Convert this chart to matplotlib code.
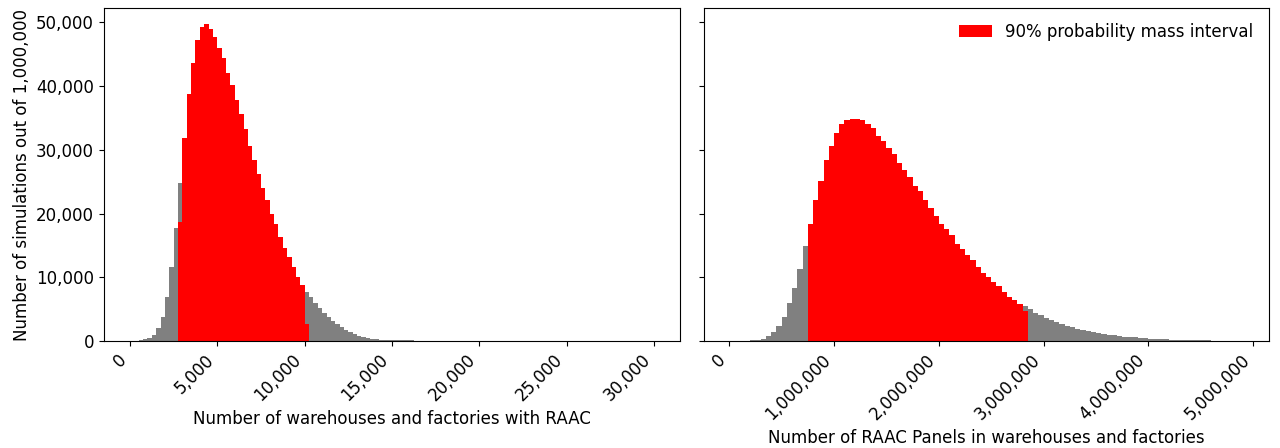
import numpy as np
import matplotlib
matplotlib.use('Agg')
import matplotlib.pyplot as plt
from matplotlib.ticker import StrMethodFormatter

plt.rcParams['font.size'] = 12

# histogram counts (1,000,000 simulations)
# warehouses and factories with RAAC: bins of 250 from 0 to 30,000
sites_edges = np.arange(0, 30001, 250)
sites_counts = [0, 20, 100, 300, 520, 940, 1990, 3800, 6950, 11650,
                17800, 24850, 31900, 38800, 43600, 47300, 49250, 49770, 48900, 47700,
                46000, 44400, 42000, 40100, 37870, 35680, 33220, 30600, 28360, 26270,
                24080, 22100, 20000, 18330, 16250, 14630, 13110, 11650, 10080, 8780,
                7730, 6850, 5900, 5120, 4440, 3810, 3190, 2660, 2140, 1720,
                1460, 1100, 780, 570, 420, 310, 260, 200, 160, 140,
                120, 110, 100, 90, 80, 70] + [0] * 54
# 90% interval: bins 11..40, edge bins only partly inside
sites_ci_bins = (11, 40)
sites_ci_edge_counts = (18700, 2700)

# RAAC panels: bins of 50,000 from 0 to 4,900,000
panels_edges = np.arange(0, 4900001, 50000)
panels_counts = [0, 0, 30, 60, 100, 200, 370, 840, 1460, 2350,
                 3810, 5900, 8250, 11230, 14890, 18300, 22100, 25070, 28360, 30660,
                 32650, 33980, 34740, 34890, 34890, 34700, 34000, 33480, 32120, 31370,
                 30240, 29350, 27970, 26900, 25750, 24290, 23560, 22100, 20950, 19590,
                 18330, 17650, 16610, 15300, 14360, 13480, 12690, 11650, 10710, 9980,
                 9300, 8560, 7730, 6950, 6420, 5800, 5480, 5000, 4450, 4100,
                 3650, 3300, 2950, 2650, 2400, 2200, 1950, 1750, 1580, 1420,
                 1270, 1130, 1010, 900, 800, 700, 620, 550, 480, 420,
                 370, 320, 280, 240, 210, 180, 160, 140, 120, 100,
                 90, 80, 70, 60, 50, 40, 60, 40]
panels_ci_bins = (15, 56)
panels_ci_edge_counts = (18300, 4750)


def interval_counts(counts, ci_bins, edge_counts):
    red = np.zeros(len(counts))
    lo, hi = ci_bins
    red[lo:hi + 1] = counts[lo:hi + 1]
    red[lo], red[hi] = edge_counts
    return red


fig, (ax1, ax2) = plt.subplots(1, 2, figsize=(12.8, 4.48), dpi=100, sharey=True)
ax1.set_position([103.8 / 1280, 1 - 341 / 448, 576.4 / 1280, 333 / 448])
ax2.set_position([703.5 / 1280, 1 - 341 / 448, 565 / 1280, 333 / 448])

for ax, edges, counts, ci_bins, edge_counts in [
        (ax1, sites_edges, sites_counts, sites_ci_bins, sites_ci_edge_counts),
        (ax2, panels_edges, panels_counts, panels_ci_bins, panels_ci_edge_counts)]:
    ax.hist(edges[:-1], bins=edges, weights=counts, color='grey')
    ax.hist(edges[:-1], bins=edges, weights=interval_counts(counts, ci_bins, edge_counts),
            color='red', label='90% probability mass interval')
    ax.xaxis.set_major_formatter(StrMethodFormatter('{x:,.0f}'))
    plt.setp(ax.get_xticklabels(), rotation=45, ha='right')

ax1.yaxis.set_major_formatter(StrMethodFormatter('{x:,.0f}'))
ax1.set_ylabel('Number of simulations out of 1,000,000')
ax1.set_xlabel('Number of warehouses and factories with RAAC')
ax2.set_xlabel('Number of RAAC Panels in warehouses and factories')
ax2.legend(loc='upper right', frameon=False)

fig.savefig('out.png', dpi=100)
